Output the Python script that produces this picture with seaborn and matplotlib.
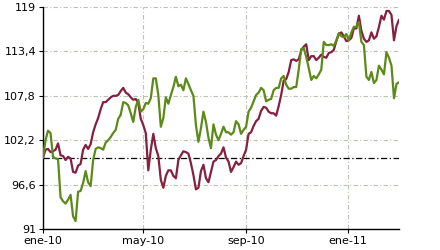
import numpy as np
import pandas as pd
import matplotlib
matplotlib.use("Agg")
import matplotlib.pyplot as plt
import matplotlib.dates as mdates
import seaborn as sns

# ---- data ----
start_date = "2010-01-01"
step = "3D"

green_vals = [
    100.0, 102.2, 103.4, 103.1, 100.1, 99.9, 99.8, 95.0, 94.5, 94.2,
    94.7, 95.3, 92.6, 92.0, 95.7, 95.8, 96.8, 98.3, 96.9, 96.4,
    99.7, 101.1, 101.3, 101.2, 101.0, 101.9, 102.2, 102.6, 103.1, 103.5,
    104.9, 105.4, 107.0, 106.9, 106.6, 105.6, 104.5, 106.4, 107.3, 105.8,
    106.1, 106.9, 106.8, 107.5, 110.0, 110.0, 107.9, 103.9, 105.0, 107.6,
    106.8, 107.9, 108.9, 110.2, 109.0, 109.2, 108.5, 110.0, 109.3, 108.5,
    107.8, 104.1, 102.0, 103.7, 105.8, 104.5, 102.5, 101.2, 104.2, 102.9,
    102.2, 103.0, 103.9, 103.2, 103.2, 102.9, 103.2, 104.6, 104.2, 103.0,
    103.5, 103.9, 105.8, 106.3, 107.1, 107.9, 108.2, 108.8, 108.5, 107.1,
    107.3, 107.4, 108.5, 108.8, 108.8, 110.0, 110.3, 109.2, 108.7, 108.7,
    108.9, 108.9, 111.1, 113.7, 113.8, 112.7, 111.3, 109.8, 110.3, 110.0,
    110.5, 111.1, 114.6, 114.2, 114.2, 114.3, 114.1, 114.8, 115.7, 115.3,
    115.2, 115.6, 114.8, 115.8, 116.5, 116.5, 117.1, 114.6, 114.2, 110.2,
    109.8, 110.8, 109.4, 109.8, 111.6, 111.1, 110.5, 113.3, 112.6, 111.6,
    107.5, 109.3, 109.5,
]

maroon_vals = [
    100.0, 101.0, 101.1, 100.7, 100.8, 101.0, 101.8, 100.3, 100.2, 99.7,
    100.1, 99.9, 98.2, 98.1, 99.0, 99.2, 101.0, 101.6, 101.1, 101.7,
    103.2, 104.2, 105.0, 106.1, 107.0, 107.0, 107.3, 107.6, 107.8, 107.8,
    107.9, 108.4, 108.8, 108.2, 108.0, 107.6, 107.3, 107.4, 106.9, 104.9,
    104.1, 103.1, 98.4, 101.0, 103.0, 101.2, 100.2, 97.2, 96.2, 97.7,
    98.4, 98.4, 97.7, 97.4, 99.7, 100.3, 100.8, 100.7, 100.5, 99.3,
    97.8, 96.0, 96.2, 98.3, 99.1, 97.4, 96.9, 98.2, 99.5, 99.7,
    100.2, 100.5, 101.3, 100.0, 99.5, 98.2, 98.8, 99.5, 99.1, 99.3,
    100.2, 101.0, 103.0, 103.2, 104.0, 104.6, 104.9, 105.9, 106.4, 106.3,
    105.8, 105.6, 105.6, 105.3, 106.5, 107.9, 109.7, 109.9, 110.8, 112.3,
    112.4, 112.2, 112.4, 113.5, 114.0, 114.3, 112.3, 112.8, 112.8, 112.3,
    112.6, 113.0, 112.7, 112.6, 113.2, 113.3, 113.6, 114.7, 115.6, 115.8,
    115.3, 114.7, 114.8, 115.1, 116.3, 116.3, 117.9, 116.0, 115.0, 114.6,
    114.8, 115.8, 115.0, 115.3, 116.5, 117.9, 117.4, 118.5, 118.5, 118.0,
    114.8, 116.6, 117.4,
]

series_names = ["serie A", "serie B"]
colors = ["#85203f", "#5c8a18"]
baseline = 100

y_ticks = [91, 96.6, 102.2, 107.8, 113.4, 119]
y_tick_labels = ["91", "96,6", "102,2", "107,8", "113,4", "119"]
x_tick_dates = ["2010-01-01", "2010-05-01", "2010-09-01", "2011-01-01"]
x_tick_labels = ["ene-10", "may-10", "sep-10", "ene-11"]

# ---- build long table ----
dates = pd.date_range(start_date, periods=len(green_vals), freq=step)
df = pd.concat([
    pd.DataFrame({"fecha": dates, "valor": maroon_vals, "serie": series_names[0]}),
    pd.DataFrame({"fecha": dates, "valor": green_vals, "serie": series_names[1]}),
])

sns.set_style("white")
plt.rcParams["font.family"] = ["DejaVu Sans"]

fig = plt.figure(figsize=(4.4, 2.5), dpi=100)
ax = fig.add_axes([43 / 440, 1 - 229 / 250, (399 - 43) / 440, (229 - 7) / 250])

grid_color = "#b9c2b5"
grid_ls = (0, (4, 2, 1, 2))
for yt in y_ticks:
    ax.axhline(yt, color=grid_color, lw=0.8, ls=grid_ls, zorder=0)
for xd in x_tick_dates:
    ax.axvline(pd.Timestamp(xd), color=grid_color, lw=0.8, ls=grid_ls, zorder=0)

# baseline
ax.axhline(baseline, color="black", lw=0.9, ls=(0, (5, 2, 1, 2)), zorder=1)

sns.lineplot(data=df, x="fecha", y="valor", hue="serie",
             palette=dict(zip(series_names, colors)),
             linewidth=1.6, legend=False, ax=ax, zorder=3)

ax.set_xlim(dates[0], dates[-1])
ax.set_ylim(91, 119)
ax.set_yticks(y_ticks)
ax.set_yticklabels(y_tick_labels)
ax.set_xticks([pd.Timestamp(d) for d in x_tick_dates])
ax.set_xticklabels(x_tick_labels)
ax.set_xlabel("")
ax.set_ylabel("")

for s in ["top", "right"]:
    ax.spines[s].set_visible(False)
for s in ["left", "bottom"]:
    ax.spines[s].set_color("black")
    ax.spines[s].set_linewidth(1.0)

ax.tick_params(axis="both", which="major", length=3, width=0.8, color="black",
               labelsize=8, labelcolor="black", direction="out", pad=2,
               left=True, bottom=True)

fig.savefig("out.png", dpi=100)
